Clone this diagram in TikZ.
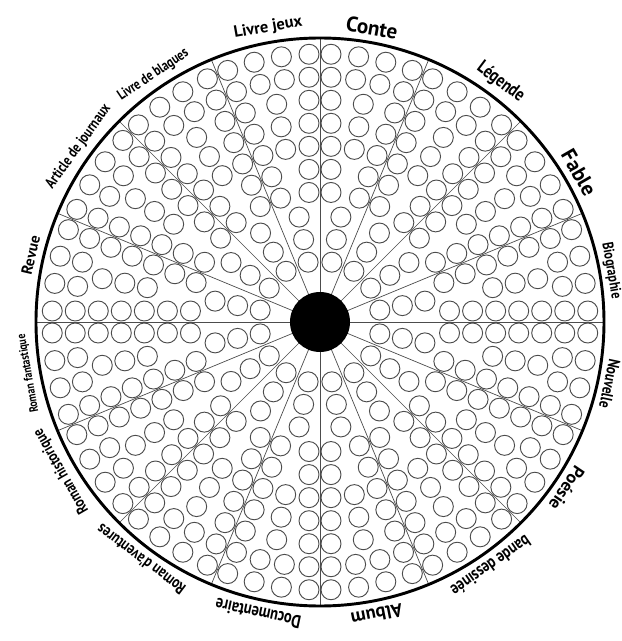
\documentclass[tikz,border=0pt]{standalone}
\usepackage{fontspec}
\setmainfont{PT Sans}
\newfontfamily\etroit{PT Sans}[FakeStretch=0.8]

\begin{document}
\begin{tikzpicture}[
  x=0.03cm, y=0.03cm,
  rayon/.style={draw=black!70, line width=0.6pt},
  pastille/.style={draw=black!70, line width=0.8pt},
  genre/.style={anchor=south, inner sep=1pt}
]
\useasboundingbox (-320,-319) rectangle (302,322);

% rayons des secteurs
\foreach \k in {0,...,15}
  \draw[rayon] (0,0) -- (22.5*\k:284);

% pastilles a colorier
\foreach \k in {0,...,15}{
  \foreach \r in {61,84,...,268}{
    \pgfmathsetmacro{\pad}{asin(11/\r)}
    \pgfmathsetmacro{\larg}{22.5-2*\pad}
    \pgfmathtruncatemacro{\n}{\r*\larg*pi/180/22.5}
    \foreach \i in {0,...,\n}{
      \pgfmathsetmacro{\a}{22.5*\k+\pad+(\n==0)*\larg/2+\i*\larg/max(\n,1)}
      \draw[pastille] (\a:\r) circle (10);
    }
  }
}

\draw[line width=2.5pt] (0,0) circle (284);
\fill (0,0) circle (30);

% noms des genres
\foreach \ang/\rr/\txt/\sz/\fam [count=\k] in {
    80/290/Conte/18/\rmfamily, 53/290/Légende/16/\etroit, 30/290/Fable/18/\rmfamily,
    10/287/Biographie/13/\etroit, -12/289/Nouvelle/14/\etroit,
    -34/290/Poésie/15/\rmfamily, -55/290/bande dessinée/15/\etroit,
    -79/290/Album/16/\rmfamily, -102/290/Documentaire/15.5/\etroit,
    -127/290/Roman d'aventures/14/\etroit, -150/290/Roman historique/13.5/\etroit,
    -170/289/Roman fantastique/10.5/\etroit, 167/290/Revue/13/\rmfamily,
    144/290/Article de journaux/13/\etroit, 124/290/Livre de blagues/12.5/\etroit,
    100/290/Livre jeux/14/\rmfamily}
  \node[genre, font=\fam\fontsize{\sz}{\sz}\selectfont\bfseries, rotate=\ang-90]
    (genre\k) at (\ang:\rr) {\txt};
\end{tikzpicture}
\end{document}
